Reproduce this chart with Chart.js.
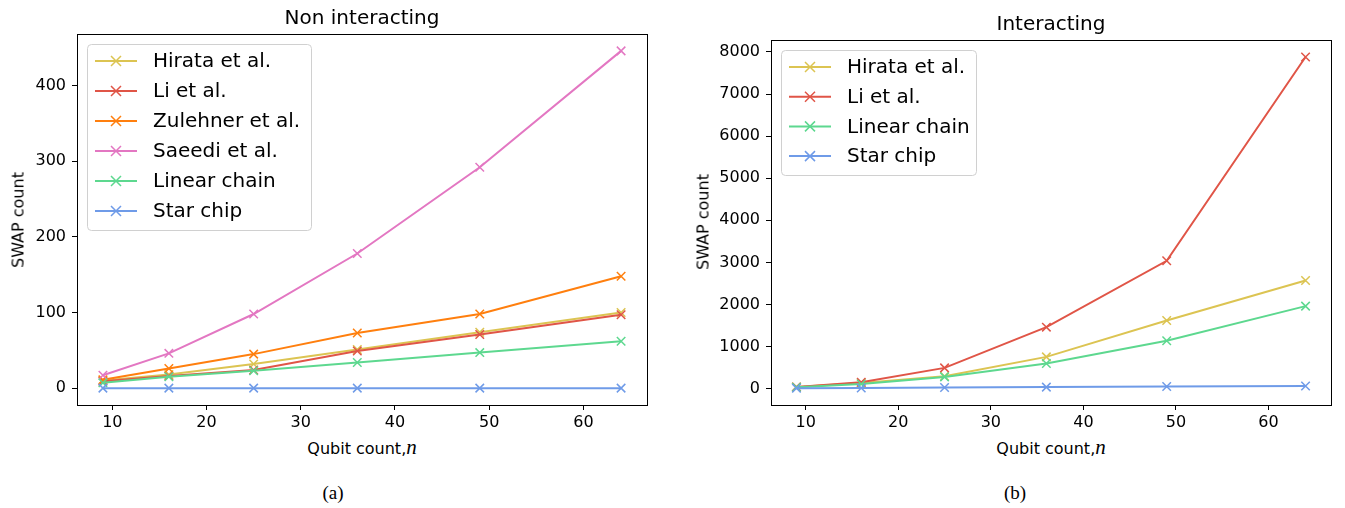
<!DOCTYPE html>
<html>
<head>
<meta charset="utf-8">
<script src="https://cdn.jsdelivr.net/npm/chart.js@4/dist/chart.umd.min.js"></script>
<style>
  body { margin: 0; background: #fff; width: 1345px; height: 508px; position: relative; overflow: hidden; font-family: "DejaVu Sans", sans-serif; color: #000; }
  .wrap { position: absolute; top: 0; height: 430px; }
  .txt { position: absolute; white-space: nowrap; transform: translate(-50%, -50%); }
  .title { font-size: 20px; }
  .axlab { font-size: 16px; }
  .ylab { font-size: 16px; transform: translate(-50%, -50%) rotate(-90deg); }
  .cap { font-family: "Liberation Serif", "DejaVu Serif", serif; font-size: 19px; }
  .math { font-family: "Liberation Serif", "DejaVu Serif", serif; font-style: italic; font-size: 21px; }
</style>
</head>
<body>
<div class="wrap" style="left:0;width:670px"><canvas id="leftChart" width="670" height="430"></canvas></div>
<div class="wrap" style="left:680px;width:665px"><canvas id="rightChart" width="665" height="430"></canvas></div>

<div class="txt title" style="left:362px;top:17px">Non interacting</div>
<div class="txt title" style="left:1051px;top:23px">Interacting</div>
<div class="txt ylab" style="left:18px;top:220px">SWAP count</div>
<div class="txt ylab" style="left:703px;top:222px">SWAP count</div>
<div class="txt axlab" style="left:362px;top:447px">Qubit count,<span class="math">n</span></div>
<div class="txt axlab" style="left:1051px;top:447px">Qubit count,<span class="math">n</span></div>
<div class="txt cap" style="left:333px;top:493px">(a)</div>
<div class="txt cap" style="left:1015px;top:493px">(b)</div>

<script>
// qubit counts on the x axis
const qubits = [9, 16, 25, 36, 49, 64];
const xTicks = [10, 20, 30, 40, 50, 60];
const leftYTicks = [0, 100, 200, 300, 400];
const rightYTicks = [0, 1000, 2000, 3000, 4000, 5000, 6000, 7000, 8000];

// (a) non interacting
const leftNames = ['Hirata et al.', 'Li et al.', 'Zulehner et al.', 'Saeedi et al.', 'Linear chain', 'Star chip'];
const hirataNon = [10, 18, 32, 51, 74, 100];
const liNon = [9, 16, 24, 49, 71, 97];
const zulehnerNon = [11, 26, 45, 73, 98, 148];
const saeediNon = [17, 46, 98, 178, 292, 446];
const linearNon = [7, 15, 23, 34, 47, 62];
const starNon = [0, 0, 0, 0, 0, 0];

// (b) interacting
const rightNames = ['Hirata et al.', 'Li et al.', 'Linear chain', 'Star chip'];
const hirataInt = [38, 135, 294, 754, 1619, 2570];
const liInt = [40, 150, 492, 1460, 3038, 7880];
const linearInt = [30, 111, 278, 595, 1135, 1960];
const starInt = [8, 15, 24, 35, 48, 63];

const colors = {
    'Hirata et al.': '#dcc452',
    'Li et al.': '#e05547',
    'Zulehner et al.': '#ff7f0e',
    'Saeedi et al.': '#e377c2',
    'Linear chain': '#5dd88f',
    'Star chip': '#6f9be8'
};

function makeDatasets(names, series) {
    return names.map((name, i) => ({
        label: name,
        data: qubits.map((q, j) => ({ x: q, y: series[i][j] })),
        borderColor: colors[name],
        backgroundColor: colors[name],
        borderWidth: 2,
        pointStyle: 'crossRot',
        pointRadius: 6,
        pointBorderWidth: 1.5,
        showLine: true,
        fill: false,
        tension: 0,
        order: names.length - i  // later series drawn on top, like matplotlib
    }));
}

// frame on all four sides + legend box inside axes
function frameAndLegend(legendBox, rowStart, rowGap) {
    return {
        id: 'frameAndLegend',
        afterDraw(chart) {
            const ctx = chart.ctx;
            const a = chart.chartArea;
            ctx.save();
            ctx.strokeStyle = '#000';
            ctx.lineWidth = 1;
            ctx.strokeRect(Math.round(a.left) + 0.5, Math.round(a.top) + 0.5, Math.round(a.right - a.left), Math.round(a.bottom - a.top));

            const b = legendBox;
            ctx.fillStyle = 'rgba(255,255,255,0.85)';
            ctx.strokeStyle = '#d0d0d0';
            ctx.beginPath();
            ctx.roundRect(b.x + 0.5, b.y + 0.5, b.w, b.h, 4);
            ctx.fill();
            ctx.stroke();

            ctx.font = '20px "DejaVu Sans"';
            ctx.textBaseline = 'middle';
            chart.data.datasets.forEach((ds, i) => {
                const y = rowStart + i * rowGap;
                const x0 = b.x + 8, x1 = b.x + 50, xm = (x0 + x1) / 2;
                ctx.strokeStyle = ds.borderColor;
                ctx.lineWidth = 2;
                ctx.beginPath();
                ctx.moveTo(x0, y); ctx.lineTo(x1, y);
                ctx.stroke();
                ctx.lineWidth = 1.5;
                ctx.beginPath();
                ctx.moveTo(xm - 5, y - 5); ctx.lineTo(xm + 5, y + 5);
                ctx.moveTo(xm - 5, y + 5); ctx.lineTo(xm + 5, y - 5);
                ctx.stroke();
                ctx.fillStyle = '#000';
                ctx.fillText(ds.label, b.x + 66, y + 1);
            });
            ctx.restore();
        }
    };
}

function renderChart(canvasId, names, series, yMin, yMax, yTicks, yWidth, pad, legendBox, rowStart, rowGap) {
    const canvas = document.getElementById(canvasId);
    const ctx = canvas.getContext('2d');
    const tickFont = { family: 'DejaVu Sans', size: 16 };
    return new Chart(ctx, {
        type: 'scatter',
        data: { datasets: makeDatasets(names, series) },
        options: {
            responsive: false,
            animation: false,
            layout: { padding: pad },
            plugins: { legend: { display: false }, tooltip: { enabled: false } },
            scales: {
                x: {
                    type: 'linear',
                    min: 6.25,
                    max: 66.75,
                    afterBuildTicks: axis => { axis.ticks = xTicks.map(v => ({ value: v })); },
                    afterFit: scale => { scale.height = 25; },
                    grid: { display: true, drawOnChartArea: false, drawTicks: true, tickLength: 5, tickColor: '#000' },
                    border: { display: true, color: '#000', width: 1 },
                    ticks: { color: '#000', font: tickFont, padding: 3, maxRotation: 0 }
                },
                y: {
                    type: 'linear',
                    min: yMin,
                    max: yMax,
                    afterBuildTicks: axis => { axis.ticks = yTicks.map(v => ({ value: v })); },
                    afterFit: scale => { scale.width = yWidth; },
                    grid: { display: true, drawOnChartArea: false, drawTicks: true, tickLength: 5, tickColor: '#000' },
                    border: { display: true, color: '#000', width: 1 },
                    ticks: { color: '#000', font: tickFont, padding: 6, callback: v => String(v) }
                }
            }
        },
        plugins: [frameAndLegend(legendBox, rowStart, rowGap)]
    });
}

renderChart('leftChart', leftNames,
    [hirataNon, liNon, zulehnerNon, saeediNon, linearNon, starNon],
    -22.3, 468.3, leftYTicks, 77,
    { top: 34, right: 23, left: 0, bottom: 0 },
    { x: 87, y: 44, w: 224, h: 186 }, 61, 30);

renderChart('rightChart', rightNames,
    [hirataInt, liInt, linearInt, starInt],
    -390, 8285, rightYTicks, 91,
    { top: 40, right: 14, left: 0, bottom: 0 },
    { x: 101, y: 50, w: 195, h: 125 }, 67, 29.7);
</script>
</body>
</html>
